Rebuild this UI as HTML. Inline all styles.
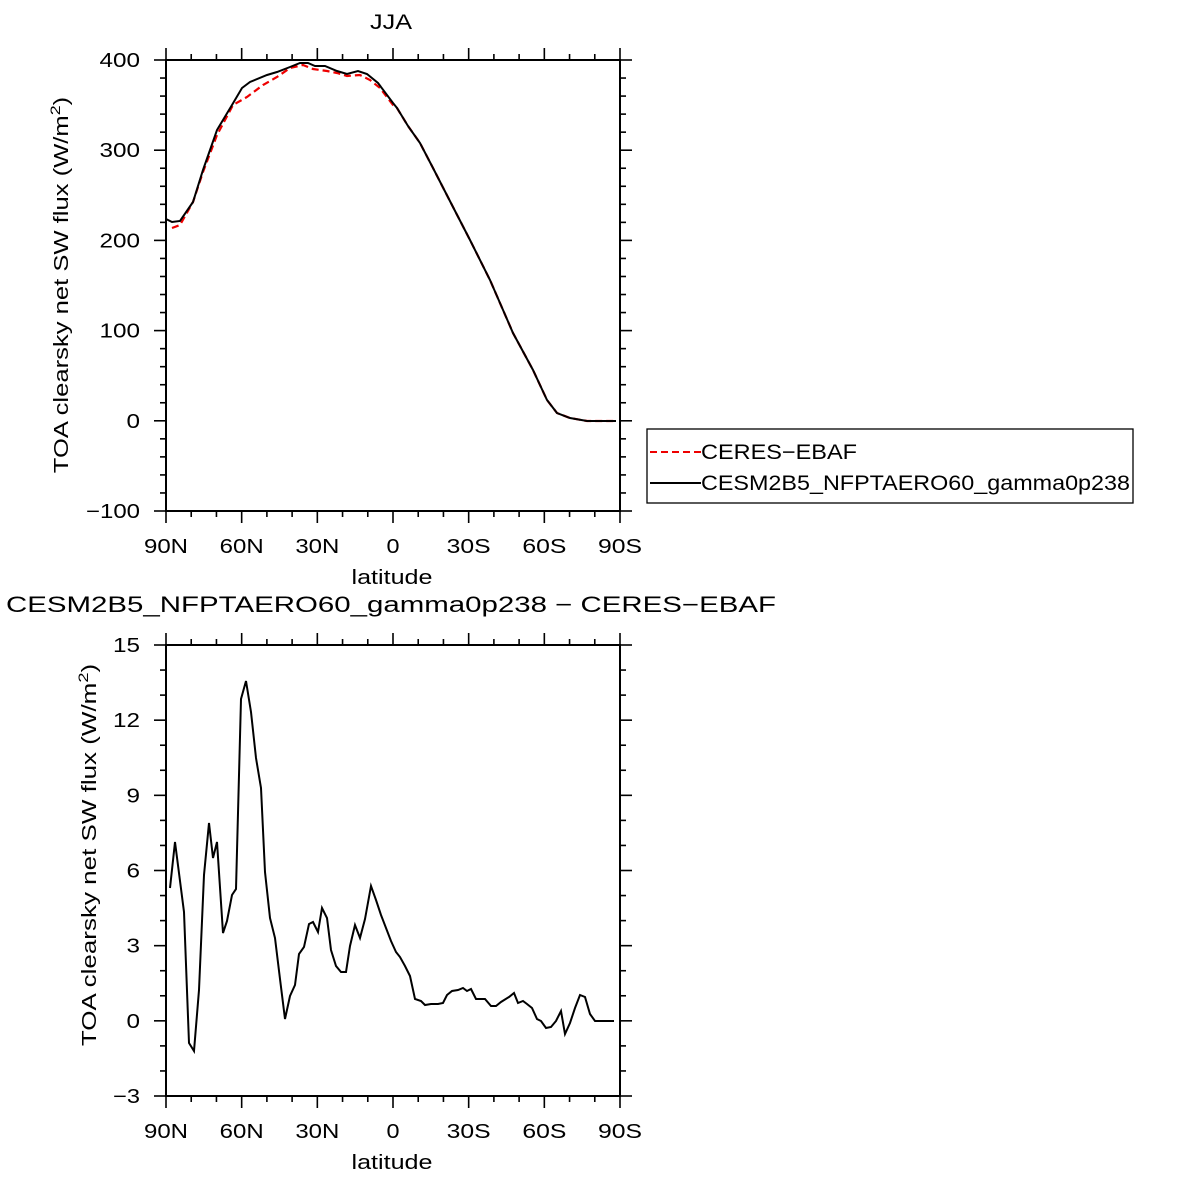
<!DOCTYPE html>
<html><head><meta charset="utf-8"><style>
body{margin:0;background:#fff}
svg text{font-family:"Liberation Sans",sans-serif;fill:#000}
</style></head><body>
<svg id="s" width="1181" height="1179" xmlns="http://www.w3.org/2000/svg">
<rect width="1181" height="1179" fill="#fff"/>
<text x="391" y="29" font-size="21" text-anchor="middle" textLength="42" lengthAdjust="spacingAndGlyphs">JJA</text>
<text x="6" y="612" font-size="22" textLength="770" lengthAdjust="spacingAndGlyphs">CESM2B5_NFPTAERO60_gamma0p238 − CERES−EBAF</text>
<g id="ticks" stroke="#000" stroke-width="1.6"></g>
<rect x="166" y="60" width="454" height="451" fill="none" stroke="#000" stroke-width="2"/>
<rect x="166" y="645" width="454" height="451" fill="none" stroke="#000" stroke-width="2"/>
<polyline fill="none" stroke="#e00" stroke-width="2.2" stroke-dasharray="7,4" points="172,228 180,225 193,202 203,172 217,135 233,105 247,97 263,85 277,77 290,68 303,65 313,69 327,71 337,73 347,76 360,75 370,80 380,88 393,105 397,108 408,126 420,143 433,168 453,207 470,240 490,280 513,333 533,370 547,400 557,413 570,418 587,421 616,421"/>
<polyline fill="none" stroke="#000" stroke-width="2" points="166,219 172,222 180,221 193,202 203,170 217,130 232,105 242,88 250,82 267,75 277,72 290,67 300,63 308,63 315,66 325,66 337,71 347,74 358,71 367,74 378,83 393,103 397,108 408,126 420,143 433,168 453,207 470,240 490,280 513,333 533,370 547,400 557,413 570,418 587,421 616,421"/>
<polyline fill="none" stroke="#000" stroke-width="2" points="170,888 175,842 184,912 189,1043 194,1051 199,990 204,875 209,823 213,858 217,842 223,933 227,921 232,895 236,889 241,699 246,681 251,712 256,758 261,788 265,872 270,918 275,938 280,979 285,1019 290,996 295,985 299,954 304,947 309,924 313,922 318,932 322,908 327,918 331,950 336,966 341,972 346,972 350,946 355,925 360,938 365,919 371,886 376,900 381,915 386,928 391,941 396,952 400,957 405,966 410,976 415,999 421,1001 425,1005 431,1004 438,1004 443,1003 447,995 452,991 458,990 463,988 467,991 471,989 476,999 485,999 491,1006 496,1006 501,1002 509,997 514,993 518,1003 523,1001 527,1004 532,1008 537,1019 541,1021 546,1028 551,1027 556,1021 561,1011 565,1034 570,1023 575,1008 580,995 585,997 590,1014 595,1021 600,1021 614,1021"/>
<g id="labels" font-size="20"></g>
<text x="392" y="584" font-size="20" text-anchor="middle" textLength="81" lengthAdjust="spacingAndGlyphs">latitude</text>
<text x="392" y="1169" font-size="20" text-anchor="middle" textLength="81" lengthAdjust="spacingAndGlyphs">latitude</text>
<text transform="translate(68,285) rotate(-90) scale(1.28,1)" font-size="20" text-anchor="middle">TOA clearsky net SW flux (W/m<tspan dy="-8" font-size="14">2</tspan><tspan dy="8">)</tspan></text>
<text transform="translate(96,855) rotate(-90) scale(1.3,1)" font-size="20" text-anchor="middle">TOA clearsky net SW flux (W/m<tspan dy="-8" font-size="14">2</tspan><tspan dy="8">)</tspan></text>
<rect x="647" y="429" width="486" height="74" fill="none" stroke="#000" stroke-width="1.3"/>
<line x1="650" y1="452" x2="701" y2="452" stroke="#e00" stroke-width="2" stroke-dasharray="7,4"/>
<line x1="650" y1="483" x2="701" y2="483" stroke="#000" stroke-width="2"/>
<text x="701" y="459" font-size="21" textLength="156" lengthAdjust="spacingAndGlyphs">CERES−EBAF</text>
<text x="701" y="490" font-size="21" textLength="429" lengthAdjust="spacingAndGlyphs">CESM2B5_NFPTAERO60_gamma0p238</text>
</svg>
<script>
var t=document.getElementById('ticks'),L=document.getElementById('labels'),ns='http://www.w3.org/2000/svg';
function ln(a,b,c,d){var e=document.createElementNS(ns,'line');e.setAttribute('x1',a);e.setAttribute('y1',b);e.setAttribute('x2',c);e.setAttribute('y2',d);t.appendChild(e);}
function tx(x,y,s,anc,w){var e=document.createElementNS(ns,'text');e.setAttribute('x',x);e.setAttribute('y',y);e.setAttribute('text-anchor',anc);if(w){e.setAttribute('textLength',w);e.setAttribute('lengthAdjust','spacingAndGlyphs');}e.textContent=s;L.appendChild(e);}
function plot(top,bot,nMinY,majEvery,labs){
 var h=bot-top;
 for(var i=0;i<=nMinY;i++){var y=top+h*i/nMinY,len=(i%majEvery==0)?12:6;ln(166-len,y,166,y);ln(620,y,620+len,y);
  if(i%majEvery==0){var s=labs[i/majEvery];tx(140,y+7,s,'end',s.length*13.5);}}
 var xl=['90N','60N','30N','0','30S','60S','90S'];
 for(var j=0;j<=18;j++){var x=166+454*j/18,len=(j%3==0)?12:6;ln(x,top-len,x,top);ln(x,bot,x,bot+len);
  if(j%3==0){var s=xl[j/3];tx(x,bot+42,s,'middle',s.length==1?13:44);}}
}
plot(60,511,25,5,['400','300','200','100','0','−100']);
plot(645,1096,18,3,['15','12','9','6','3','0','−3']);
</script>
</body></html>
